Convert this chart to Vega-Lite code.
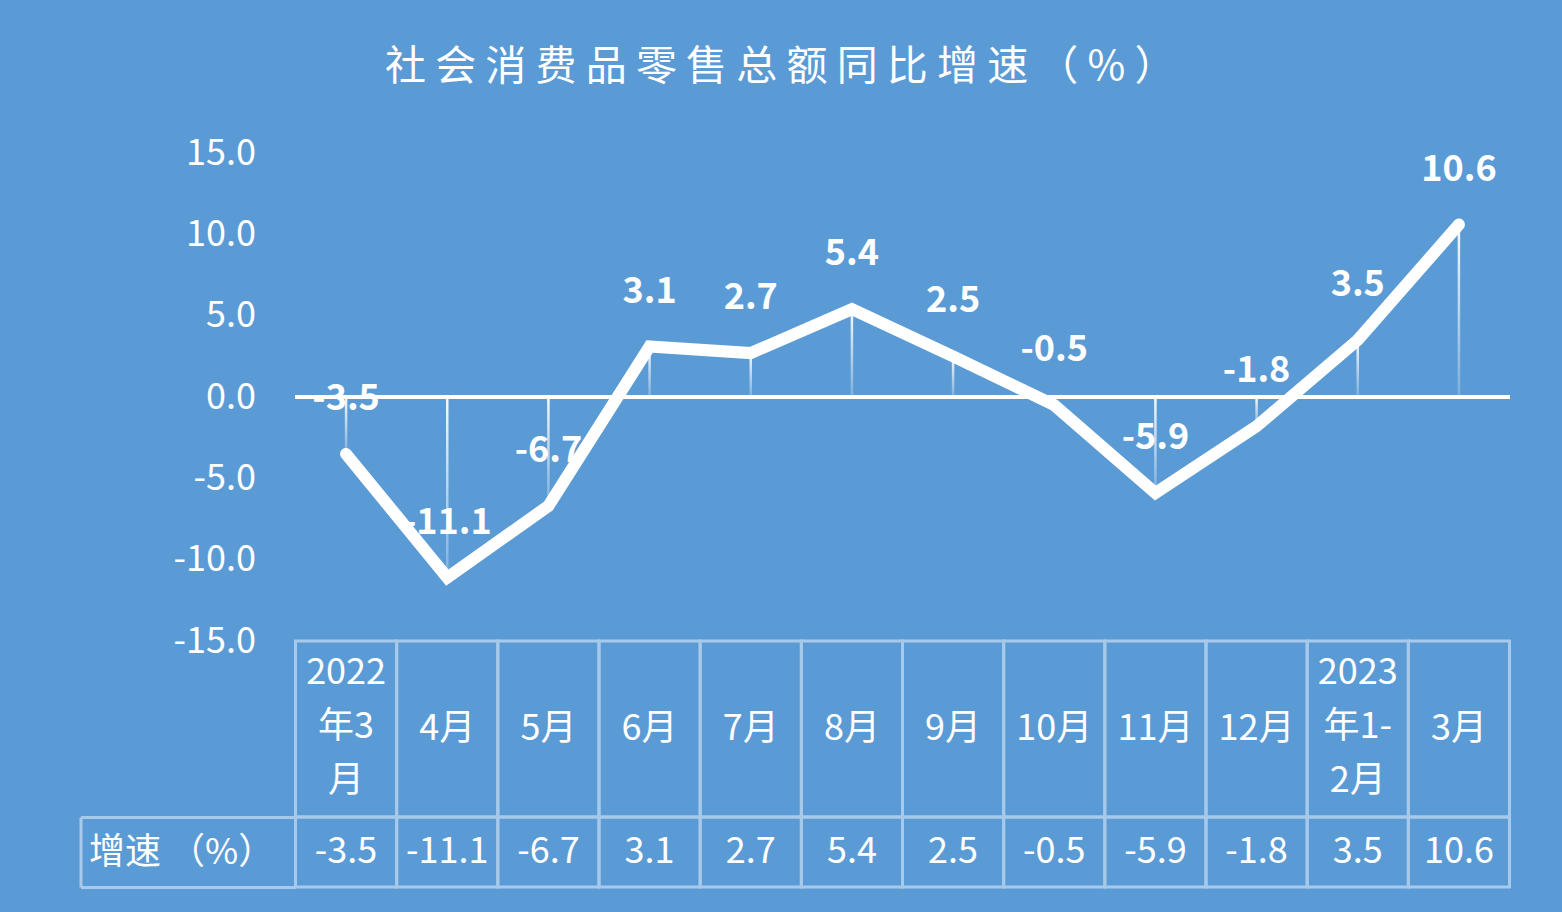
{
  "$schema": "https://vega.github.io/schema/vega-lite/v6.json",
  "background": "#5B9BD5",
  "padding": {"left": 78.5, "top": 47, "right": 51.5, "bottom": 24.5},
  "title": {
    "text": "社 会 消 费 品 零 售 总 额 同 比 增 速 （ % ）",
    "color": "white",
    "fontSize": 41,
    "fontWeight": "normal",
    "font": "Noto Sans CJK SC",
    "anchor": "middle",
    "dx": -15,
    "offset": 46
  },
  "datasets": {
    "d": [
      {"m": "2022年3月", "hdr": "2022\n年3\n月", "v": -3.5},
      {"m": "4月", "hdr": "4月", "v": -11.1},
      {"m": "5月", "hdr": "5月", "v": -6.7},
      {"m": "6月", "hdr": "6月", "v": 3.1},
      {"m": "7月", "hdr": "7月", "v": 2.7},
      {"m": "8月", "hdr": "8月", "v": 5.4},
      {"m": "9月", "hdr": "9月", "v": 2.5},
      {"m": "10月", "hdr": "10月", "v": -0.5},
      {"m": "11月", "hdr": "11月", "v": -5.9},
      {"m": "12月", "hdr": "12月", "v": -1.8},
      {"m": "2023年1-2月", "hdr": "2023\n年1-\n2月", "v": 3.5},
      {"m": "2023年3月", "hdr": "3月", "v": 10.6}
    ]
  },
  "vconcat": [
    {
      "width": 1214,
      "height": 488,
      "data": {"name": "d"},
      "layer": [
        {
          "mark": {
            "type": "bar",
            "width": 2.5,
            "fill": {
              "gradient": "linear", "x1": 0, "y1": 0, "x2": 0, "y2": 1,
              "stops": [
                {"offset": 0, "color": "rgba(255,255,255,0.95)"},
                {"offset": 1, "color": "rgba(255,255,255,0.2)"}
              ]
            }
          },
          "encoding": {
            "x": {"field": "m", "type": "nominal", "sort": null, "scale": {"type": "band", "paddingInner": 0, "paddingOuter": 0}, "axis": null},
            "y": {
              "field": "v", "type": "quantitative",
              "scale": {"domain": [-15, 15], "nice": false, "zero": false},
              "axis": {
                "values": [-15, -10, -5, 0, 5, 10, 15],
                "format": ".1f",
                "labelColor": "white",
                "labelFontSize": 36,
                "labelFont": "Noto Sans CJK SC",
                "labelPadding": 40,
                "ticks": false,
                "domain": false,
                "grid": false,
                "title": null
              }
            },
            "y2": {"datum": 0}
          }
        },
        {
          "mark": {"type": "rule", "color": "white", "strokeWidth": 4},
          "encoding": {"y": {"datum": 0}}
        },
        {
          "mark": {"type": "line", "color": "white", "strokeWidth": 12, "strokeCap": "round"},
          "encoding": {
            "x": {"field": "m", "type": "nominal", "sort": null},
            "y": {"field": "v", "type": "quantitative"}
          }
        },
        {
          "mark": {"type": "text", "color": "white", "fontSize": 36, "fontWeight": "bold", "font": "Noto Sans CJK SC", "dy": -55},
          "encoding": {
            "x": {"field": "m", "type": "nominal", "sort": null},
            "y": {"field": "v", "type": "quantitative"},
            "text": {"field": "v", "type": "quantitative", "format": ".1f"}
          }
        }
      ]
    },
    {
      "width": 1214,
      "height": 176,
      "data": {"name": "d"},
      "encoding": {
        "x": {"field": "m", "type": "nominal", "sort": null, "scale": {"type": "band", "paddingInner": 0, "paddingOuter": 0}, "axis": null}
      },
      "layer": [
        {"mark": {"type": "rect", "fill": "transparent", "stroke": "#A7CAEB", "strokeWidth": 3}},
        {
          "transform": [{"filter": "length(split(datum.hdr, '\\n')) == 1"}],
          "mark": {"type": "text", "color": "white", "fontSize": 36, "font": "Noto Sans CJK SC"},
          "encoding": {"text": {"field": "hdr", "type": "nominal"}}
        },
        {
          "transform": [{"filter": "length(split(datum.hdr, '\\n')) > 1"}],
          "mark": {"type": "text", "color": "white", "fontSize": 36, "font": "Noto Sans CJK SC", "lineBreak": "\n", "lineHeight": 54, "dy": -56},
          "encoding": {"text": {"field": "hdr", "type": "nominal"}}
        }
      ]
    },
    {
      "width": 1214,
      "height": 70,
      "data": {"name": "d"},
      "encoding": {
        "x": {"field": "m", "type": "nominal", "sort": null, "scale": {"type": "band", "paddingInner": 0, "paddingOuter": 0}, "axis": null},
        "y": {
          "datum": "增速 （%）", "type": "nominal",
          "scale": {"type": "band", "paddingInner": 0, "paddingOuter": 0},
          "axis": {
            "title": null,
            "offset": 215,
            "tickBand": "extent",
            "tickSize": -215,
            "tickColor": "#A7CAEB",
            "tickWidth": 3,
            "domainColor": "#A7CAEB",
            "domainWidth": 3,
            "labelAlign": "left",
            "labelPadding": 207,
            "labelLimit": 0,
            "labelColor": "white",
            "labelFontSize": 36,
            "labelFont": "Noto Sans CJK SC"
          }
        }
      },
      "layer": [
        {"mark": {"type": "rect", "fill": "transparent", "stroke": "#A7CAEB", "strokeWidth": 3}},
        {
          "mark": {"type": "text", "color": "white", "fontSize": 36, "font": "Noto Sans CJK SC"},
          "encoding": {"text": {"field": "v", "type": "quantitative", "format": ".1f"}}
        }
      ]
    }
  ],
  "spacing": 0,
  "bounds": "flush",
  "config": {
    "view": {"stroke": null},
    "locale": {"number": {"decimal": ".", "thousands": ",", "grouping": [3], "currency": ["$", ""], "minus": "-"}}
  }
}
